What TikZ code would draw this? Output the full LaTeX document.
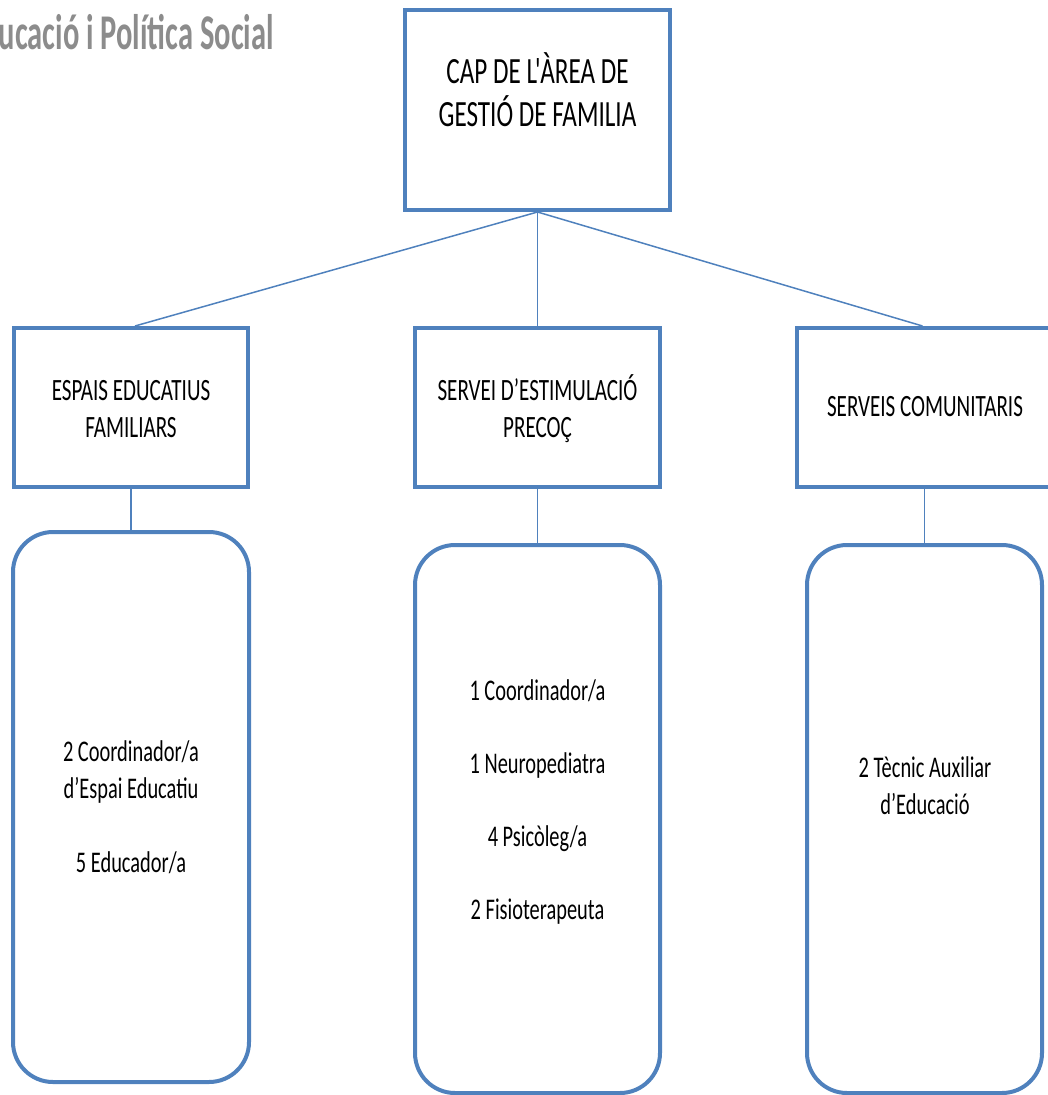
\documentclass[tikz,border=0pt]{standalone}
\usepackage{fontspec}
\setmainfont{Carlito}[FakeStretch=0.68]
\newfontfamily\titlefont{Carlito}[FakeStretch=0.61]
\usepackage{tikz}
\usetikzlibrary{positioning}
\definecolor{boxblue}{HTML}{4F81BD}
\definecolor{titlegray}{HTML}{8C8C8C}
\tikzset{
    x=1pt, y=-1pt, % one unit is one pixel, counted down from the top left corner
    every node/.style={inner sep=0pt},
    headbox/.style={draw=boxblue, line width=4pt, minimum width=265pt, minimum height=200pt}, % the top box
    unitbox/.style={draw=boxblue, line width=4pt, minimum height=159pt}, % the three services
    staffbox/.style={draw=boxblue, line width=4pt, rounded corners=40pt}, % the staff lists
    boxtext/.style={align=center, font=\fontsize{31}{37}\selectfont},
    stafftext/.style={align=center, font=\fontsize{30}{37}\selectfont},
    link/.style={draw=boxblue, line width=1.5pt},
}

\begin{document}
\begin{tikzpicture}
            \useasboundingbox (0,0) rectangle (1047,1095);

            \node[anchor=base east, text=titlegray, font=\titlefont\bfseries\fontsize{50}{50}\selectfont]
                at (274,49) (title) {ucació i Política Social};

            % top level
            \node[headbox] at (537.5,110) (cap) {};
            \node[boxtext, font=\fontsize{37}{43}\selectfont] at (537.5,90) (cap-txt)
                {CAP DE L\kern-2pt\textquotesingle\kern-3pt ÀREA DE\\GESTIÓ DE FAMILIA};

            % services
            \node[unitbox, minimum width=234pt] at (131,407.5) (espais) {};
            \node[unitbox, minimum width=245pt] at (537.5,407.5) (servei) {};
            \node[unitbox, minimum width=255pt] at (924.5,407.5) (comunit) {};
            \node[boxtext] at (131,409) (espais-txt) {ESPAIS EDUCATIUS\\FAMILIARS};
            \node[boxtext] at (537.5,409) (servei-txt) {SERVEI D’ESTIMULACIÓ\\PRECOÇ};
            \node[boxtext] at (925,407) (comunit-txt) {SERVEIS COMUNITARIS};

            % staff
            \node[staffbox, minimum width=236pt, minimum height=550pt, below=41pt of espais] (espais-staff) {};
            \node[staffbox, minimum width=245pt, minimum height=548pt, below=54pt of servei] (servei-staff) {};
            \node[staffbox, minimum width=235pt, minimum height=548pt, below=54pt of comunit] (comunit-staff) {};
            \node[stafftext] at (131,807) (espais-list)
                {2 Coordinador/a\\d’Espai Educatiu\\[37pt]5 Educador/a};
            \node[stafftext] at (537.5,802) (servei-list)
                {1 Coordinador/a\\[36pt]1 Neuropediatra\\[36pt]4 Psicòleg/a\\[36pt]2 Fisioterapeuta};
            \node[stafftext] at (925,786) (comunit-list)
                {2 Tècnic Auxiliar\\d’Educació};

            \draw[link]
                (cap.south) edge ([xshift=4pt]espais.north)
                (cap.south) edge (servei.north)
                (cap.south) edge ([xshift=-2pt]comunit.north)
                (espais.south) edge (espais-staff.north)
                (servei.south) edge (servei-staff.north)
                (comunit.south) edge (comunit-staff.north);
        \end{tikzpicture}
\end{document}
